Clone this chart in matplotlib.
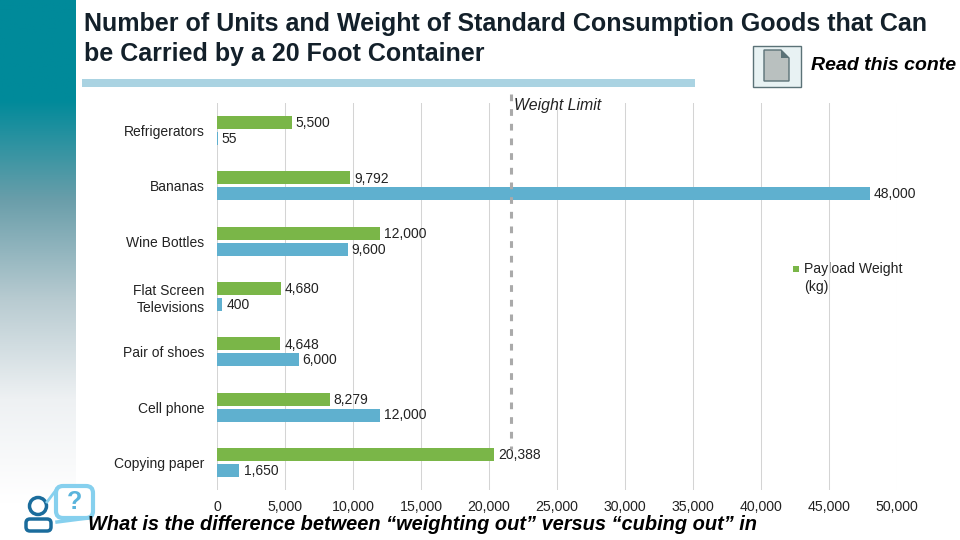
import matplotlib
matplotlib.use("Agg")
import matplotlib.pyplot as plt
import numpy as np
from matplotlib.colors import LinearSegmentedColormap
from matplotlib.patches import Rectangle, Polygon, Circle, FancyBboxPatch

plt.rcParams['font.family'] = ['Liberation Sans', 'DejaVu Sans']

# chart data
categories = ["Refrigerators", "Bananas", "Wine Bottles", "Flat Screen\nTelevisions",
              "Pair of shoes", "Cell phone", "Copying paper"]
payload_weight = [5500, 9792, 12000, 4680, 4648, 8279, 20388]
units = [55, 48000, 9600, 400, 6000, 12000, 1650]
weight_limit = 21600
x_ticks = np.arange(0, 50001, 5000)

GREEN = "#7ab648"
BLUE = "#5fb0cf"

fig = plt.figure(figsize=(9.6, 5.4), dpi=100)

# background layer in pixel coordinates
bg = fig.add_axes([0, 0, 1, 1])
bg.axis("off")

# sidebar gradient
cmap = LinearSegmentedColormap.from_list(
    "side", [(0, "#008a9a"), (0.185, "#008a9a"), (0.37, "#6a9eaa"), (0.555, "#b8cbd1"),
             (0.74, "#eef1f3"), (0.93, "#ffffff"), (1, "#ffffff")])
grad = np.linspace(0, 1, 256).reshape(-1, 1)
bg.imshow(grad, cmap=cmap, extent=[0, 76, 540, 0], aspect="auto")
bg.set_xlim(0, 960)
bg.set_ylim(540, 0)

# rule under the title
bg.add_patch(Rectangle((82, 79), 613, 8, color="#aad3e2", lw=0))

# title
title_lines = ["Number of Units and Weight of Standard Consumption Goods that Can",
               "be Carried by a 20 Foot Container"]
bg.text(84, 24, title_lines[0], fontsize=18, fontweight="bold", color="#13202a", va="center")
bg.text(84, 54, title_lines[1], fontsize=18, fontweight="bold", color="#13202a", va="center")

# document icon
bg.add_patch(Rectangle((752.5, 45.5), 48, 41, fc="#e8f2f3", ec="#5b7277", lw=1))
bg.add_patch(Polygon([(764, 50), (781, 50), (789, 58), (789, 81), (764, 81)],
                     closed=True, fc="#b9c0bf", ec="#5b7277", lw=1))
bg.add_patch(Polygon([(781, 50), (789, 58), (781, 58)], closed=True, fc="#5b7277", lw=0))
bg.text(811, 65, "Read this conte", fontsize=14, fontweight="bold", style="italic",
        color="black", va="center")

# person and question icon
bg.add_patch(Circle((38, 506), 8.5, fc="none", ec="#1a6c9c", lw=2.5))
bg.add_patch(FancyBboxPatch((26, 519), 25, 12, boxstyle="round,pad=0,rounding_size=4",
                            fc="white", ec="#1a6c9c", lw=2.5))
bg.add_patch(FancyBboxPatch((56, 486), 37, 32, boxstyle="round,pad=0,rounding_size=7",
                            fc="white", ec="#86d0ee", lw=3))
bg.plot([47, 56], [502, 490], color="#86d0ee", lw=2)
bg.plot([57, 88], [522, 518], color="#86d0ee", lw=2.5)
bg.text(75, 502, "?", fontsize=18, fontweight="bold", color="#5ab4dc", ha="center", va="center")

# bottom question
bg.text(88, 525, "What is the difference between \u201cweighting out\u201d versus \u201ccubing out\u201d in",
        fontsize=14.45, fontweight="bold", style="italic", color="black", va="center", zorder=5)

# main chart, 217..897 px wide and 103..490 px tall
ax = fig.add_axes([217 / 960, 1 - 490 / 540, 680 / 960, 387 / 540])
ax.patch.set_alpha(0)
y = np.arange(len(categories))
bar_h = 0.235
ax.barh(y - 0.145, payload_weight, height=bar_h, color=GREEN, zorder=2)
ax.barh(y + 0.145, units, height=bar_h, color=BLUE, zorder=2)

for i in range(len(categories)):
    ax.text(payload_weight[i] + 300, i - 0.13, f"{payload_weight[i]:,}", fontsize=10,
            color="#222222", va="center")
    ax.text(units[i] + 300, i + 0.15, f"{units[i]:,}", fontsize=10, color="#222222", va="center")

ax.set_xlim(0, 50000)
ax.set_ylim(len(categories) - 0.5, -0.5)
ax.set_xticks(x_ticks)
ax.set_xticklabels([f"{v:,}" for v in x_ticks], fontsize=10.2, color="#222222")
ax.set_yticks(y)
ax.set_yticklabels(categories, fontsize=10, color="#222222", multialignment="right", linespacing=1.25)
ax.tick_params(axis="x", length=0, pad=7.5)
ax.tick_params(axis="y", length=0, pad=9)
ax.grid(axis="x", color="#d4d4d4", lw=0.75, zorder=0)
ax.set_axisbelow(True)
for s in ax.spines.values():
    s.set_visible(False)

# weight limit
ax.plot([weight_limit, weight_limit], [-0.67, 5.76], color="#aaaaaa", lw=2.2,
        ls=(0, (2.2, 2.6)), clip_on=False, zorder=3)
ax.text(weight_limit + 250, -0.45, "Weight Limit", fontsize=11.4, style="italic", color="#222222",
        va="center", clip_on=False)

# legend
bg.add_patch(Rectangle((793, 266), 6, 6, color=GREEN, lw=0))
bg.text(804, 278, "Payload Weight\n(kg)", fontsize=10.1, color="#222222", va="center", linespacing=1.45)

fig.savefig("out.png", dpi=100)
